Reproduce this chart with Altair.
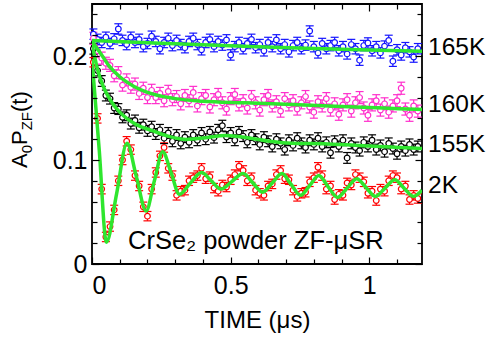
import altair as alt
import pandas as pd

# ---------------- data ----------------
T = [0.005, 0.020, 0.035, 0.050, 0.065, 0.080, 0.095, 0.110, 0.125, 0.140,
     0.155, 0.170, 0.185, 0.200, 0.215, 0.230, 0.245, 0.260, 0.275, 0.290,
     0.305, 0.320, 0.335, 0.350, 0.365, 0.380, 0.395, 0.410, 0.425, 0.440,
     0.455, 0.470, 0.485, 0.500, 0.515, 0.530, 0.545, 0.560, 0.575, 0.590,
     0.605, 0.620, 0.635, 0.650, 0.665, 0.680, 0.695, 0.710, 0.725, 0.740,
     0.755, 0.770, 0.785, 0.800, 0.815, 0.830, 0.845, 0.860, 0.875, 0.890,
     0.905, 0.920, 0.935, 0.950, 0.965, 0.980, 0.995, 1.010, 1.025, 1.040,
     1.055, 1.070, 1.085, 1.100, 1.115, 1.130, 1.145, 1.160, 1.175]

DATA_165K = [0.221, 0.216, 0.213, 0.218, 0.212, 0.2165, 0.226, 0.215, 0.211, 0.218,
             0.213, 0.216, 0.209, 0.212, 0.219, 0.214, 0.207, 0.213, 0.217, 0.210,
             0.215, 0.211, 0.208, 0.214, 0.217, 0.211, 0.206, 0.213, 0.216, 0.209,
             0.214, 0.2105, 0.2155, 0.201, 0.209, 0.213, 0.207, 0.212, 0.216, 0.208,
             0.211, 0.205, 0.213, 0.209, 0.2155, 0.207, 0.211, 0.204, 0.210, 0.213,
             0.207, 0.2105, 0.224, 0.209, 0.203, 0.212, 0.207, 0.210, 0.213, 0.205,
             0.209, 0.202, 0.211, 0.207, 0.196, 0.210, 0.2125, 0.205, 0.209, 0.203,
             0.2095, 0.215, 0.195, 0.206, 0.201, 0.208, 0.204, 0.199, 0.207]

DATA_160K = [0.217, 0.205, 0.198, 0.193, 0.191, 0.181, 0.184, 0.172, 0.177, 0.170,
             0.173, 0.164, 0.169, 0.160, 0.167, 0.160, 0.164, 0.157, 0.166, 0.158,
             0.161, 0.154, 0.162, 0.157, 0.165, 0.152, 0.159, 0.162, 0.151, 0.158,
             0.163, 0.155, 0.149, 0.159, 0.163, 0.153, 0.157, 0.150, 0.161, 0.155,
             0.148, 0.158, 0.162, 0.152, 0.156, 0.147, 0.159, 0.153, 0.157, 0.149,
             0.155, 0.161, 0.151, 0.146, 0.156, 0.152, 0.159, 0.148, 0.154, 0.144,
             0.153, 0.158, 0.147, 0.155, 0.160, 0.150, 0.143, 0.153, 0.157, 0.148,
             0.154, 0.146, 0.152, 0.157, 0.169, 0.149, 0.143, 0.152, 0.147]

DATA_155K = [0.207, 0.186, 0.176, 0.162, 0.159, 0.150, 0.149, 0.141, 0.143, 0.135,
             0.138, 0.131, 0.134, 0.128, 0.132, 0.125, 0.129, 0.121, 0.126, 0.118,
             0.124, 0.116, 0.122, 0.117, 0.124, 0.119, 0.126, 0.120, 0.127, 0.1215,
             0.129, 0.133, 0.122, 0.126, 0.119, 0.127, 0.123, 0.117, 0.124, 0.120,
             0.115, 0.122, 0.118, 0.113, 0.120, 0.116, 0.110, 0.119, 0.114, 0.121,
             0.116, 0.112, 0.119, 0.115, 0.121, 0.113, 0.117, 0.107, 0.118, 0.113,
             0.119, 0.102, 0.116, 0.112, 0.109, 0.117, 0.113, 0.119, 0.110, 0.114,
             0.108, 0.116, 0.111, 0.106, 0.113, 0.109, 0.115, 0.110, 0.113]

DATA_2K = [0.194, 0.140, 0.072, 0.026, 0.036, 0.052, 0.080, 0.100, 0.118, 0.110,
           0.085, 0.075, 0.055, 0.046, 0.072, 0.088, 0.104, 0.112, 0.092, 0.085,
           0.066, 0.070, 0.071, 0.080, 0.083, 0.085, 0.092, 0.082, 0.084, 0.073,
           0.070, 0.076, 0.074, 0.081, 0.086, 0.094, 0.090, 0.080, 0.083, 0.071,
           0.068, 0.066, 0.075, 0.077, 0.086, 0.090, 0.082, 0.081, 0.071, 0.065,
           0.068, 0.069, 0.079, 0.083, 0.093, 0.085, 0.072, 0.075, 0.062, 0.067,
           0.066, 0.078, 0.076, 0.086, 0.083, 0.079, 0.068, 0.070, 0.061, 0.072,
           0.070, 0.080, 0.085, 0.083, 0.072, 0.075, 0.062, 0.066, 0.063]

ERRORS = {"165K": 0.005, "160K": 0.0058, "155K": 0.0052, "2K": 0.0045}

FIT_165K_T = [0.0, 0.2, 0.4, 0.6, 0.8, 1.0, 1.19]
FIT_165K_V = [0.215, 0.2128, 0.2108, 0.209, 0.2073, 0.2058, 0.2045]

FIT_160K_T = [0.0, 0.03, 0.06, 0.1, 0.15, 0.2, 0.3, 0.4, 0.55, 0.7, 0.9, 1.05, 1.19]
FIT_160K_V = [0.214, 0.203, 0.191, 0.180, 0.171, 0.165, 0.159, 0.1565, 0.155,
              0.1535, 0.1515, 0.150, 0.1485]

FIT_155K_T = [0.0, 0.02, 0.04, 0.07, 0.1, 0.13, 0.16, 0.22, 0.28, 0.34, 0.41,
              0.48, 0.56, 0.64, 0.72, 0.85, 1.0, 1.19]
FIT_155K_V = [0.212, 0.187, 0.171, 0.156, 0.146, 0.139, 0.134, 0.128, 0.1225,
              0.1198, 0.1215, 0.1235, 0.1215, 0.118, 0.116, 0.1155, 0.1135, 0.111]

FIT_2K_T = [0.0, 0.026, 0.052, 0.089, 0.126, 0.16, 0.195, 0.225, 0.255, 0.285,
            0.315, 0.355, 0.395, 0.43, 0.465, 0.505, 0.545, 0.58, 0.615, 0.65,
            0.685, 0.718, 0.752, 0.785, 0.818, 0.851, 0.885, 0.92, 0.955, 0.988,
            1.022, 1.057, 1.092, 1.125, 1.159, 1.19]
FIT_2K_V = [0.197, 0.110, 0.021, 0.068, 0.116, 0.084, 0.051, 0.080, 0.108, 0.088,
            0.067, 0.078, 0.088, 0.080, 0.072, 0.0795, 0.087, 0.078, 0.069, 0.078,
            0.087, 0.0765, 0.066, 0.0755, 0.085, 0.0745, 0.064, 0.073, 0.082, 0.0735,
            0.065, 0.073, 0.081, 0.073, 0.065, 0.071]

SERIES = ["165K", "160K", "155K", "2K"]
COLORS = ["#1414ff", "#ff2ecc", "#000000", "#ff0000"]
LABEL_Y = [0.2075, 0.153, 0.114, 0.075]
GREEN = "#2ee62e"
FONT = "Liberation Sans"

# ---------------- tables ----------------
data_map = {"165K": DATA_165K, "160K": DATA_160K, "155K": DATA_155K, "2K": DATA_2K}
rows = []
for s in SERIES:
    for t, v in zip(T, data_map[s]):
        rows.append({"t": t, "v": v, "lo": v - ERRORS[s], "hi": v + ERRORS[s], "series": s})
df = pd.DataFrame(rows)

fit_map = {"165K": (FIT_165K_T, FIT_165K_V), "160K": (FIT_160K_T, FIT_160K_V),
           "155K": (FIT_155K_T, FIT_155K_V), "2K": (FIT_2K_T, FIT_2K_V)}
frows = []
for s in SERIES:
    for t, v in zip(*fit_map[s]):
        frows.append({"t": t, "v": v, "series": s})
fdf = pd.DataFrame(frows)

labels_df = pd.DataFrame({"t": [1.19] * 4, "v": LABEL_Y, "label": SERIES})
annot_df = pd.DataFrame({"t": [0.13], "v": [0.0145], "label": ["CrSe₂ powder ZF-μSR"]})

xs = alt.Scale(domain=[0, 1.19], nice=False, zero=False)
ys = alt.Scale(domain=[0, 0.25], nice=False, zero=False)
cs = alt.Scale(domain=SERIES, range=COLORS)

X = lambda f="t": alt.X(f"{f}:Q", scale=xs, axis=None)
Y = lambda f="v": alt.Y(f"{f}:Q", scale=ys, axis=None)

base = alt.Chart(df)
bars = base.mark_rule(strokeWidth=1.2, opacity=1).encode(
    x=X(), y=Y("lo"), y2="hi:Q", color=alt.Color("series:N", scale=cs, legend=None))
cap_hi = base.mark_tick(orient="horizontal", size=8, thickness=1.2, opacity=1).encode(
    x=X(), y=Y("hi"), color=alt.Color("series:N", scale=cs, legend=None))
cap_lo = base.mark_tick(orient="horizontal", size=8, thickness=1.2, opacity=1).encode(
    x=X(), y=Y("lo"), color=alt.Color("series:N", scale=cs, legend=None))
pts = base.mark_point(shape="circle", size=32, filled=True, fill="white",
                      strokeWidth=1.2, opacity=1).encode(
    x=X(), y=Y(), stroke=alt.Stroke("series:N", scale=cs, legend=None))

fits = alt.Chart(fdf).mark_line(interpolate="monotone", strokeWidth=3.5,
                                color=GREEN, clip=True).encode(
    x=X(), y=Y(), detail="series:N")

labels = alt.Chart(labels_df).mark_text(align="left", baseline="middle", dx=6,
                                         fontSize=24.5, font=FONT, color="black").encode(
    x=X(), y=Y(), text="label:N")
annot = alt.Chart(annot_df).mark_text(align="left", baseline="alphabetic",
                                       fontSize=25.5, font=FONT, color="black").encode(
    x=X(), y=Y(), text="label:N")

# y-axis title built from pieces (subscripts)
one = pd.DataFrame({"a": [0]})
def piece(txt, size, xv, yv):
    return alt.Chart(one).mark_text(text=txt, angle=270, align="left",
                                    baseline="alphabetic", fontSize=size,
                                    font=FONT, color="black").encode(
        x=alt.value(xv), y=alt.value(yv))

ytitle = [piece("A", 22, -65, 164), piece("0", 15, -60, 149.3),
          piece("P", 22, -65, 141), piece("ZF", 15, -60, 126.3),
          piece("(t)", 22, -65, 108)]

# axes: labels + inward ticks on all four sides
def axis_layer(xaxis, yaxis):
    return alt.Chart(fdf).mark_point(opacity=0).encode(
        x=alt.X("t:Q", scale=xs, axis=xaxis), y=alt.Y("v:Q", scale=ys, axis=yaxis))

X_MAJ = [0, 0.5, 1]
X_MIN = [0.1, 0.2, 0.3, 0.4, 0.6, 0.7, 0.8, 0.9, 1.1]
Y_MAJ = [0, 0.1, 0.2]
Y_MIN = [0.02, 0.04, 0.06, 0.08, 0.12, 0.14, 0.16, 0.18, 0.22, 0.24]

def tick_axis(orient, values, size):
    return alt.Axis(orient=orient, values=values, labels=False, domain=False,
                    grid=False, ticks=True, tickSize=size, offset=-size,
                    tickColor="black", tickWidth=1.2, title=None, zindex=1)

lab_x = alt.Axis(orient="bottom", values=X_MAJ, format="~g", ticks=False, domain=False,
                 grid=False, labelFontSize=25, labelFont=FONT, labelColor="black",
                 labelPadding=9, title="TIME (μs)", titleFontSize=24, titleFont=FONT,
                 titleFontWeight="normal", titleColor="black",
                 titleBaseline="alphabetic", titleY=63)
lab_y = alt.Axis(orient="left", values=Y_MAJ, format="~g", ticks=False, domain=False,
                 grid=False, labelFontSize=25, labelFont=FONT, labelColor="black",
                 labelPadding=5, title=None)

axes = [
    axis_layer(lab_x, lab_y),
    axis_layer(tick_axis("bottom", X_MAJ, 7), tick_axis("left", Y_MAJ, 7)),
    axis_layer(tick_axis("bottom", X_MIN, 5), tick_axis("left", Y_MIN, 5)),
    axis_layer(tick_axis("top", X_MAJ, 7), tick_axis("right", Y_MAJ, 7)),
    axis_layer(tick_axis("top", X_MIN, 5), tick_axis("right", Y_MIN, 5)),
]

chart = alt.layer(
    *axes, bars, cap_hi, cap_lo, pts, fits, labels, annot, *ytitle
).resolve_axis(
    x="independent", y="independent"
).properties(
    width=330, height=260,
    autosize=alt.AutoSizeParams(type="none"),
    padding={"left": 92, "top": 4, "right": 68, "bottom": 73},
).configure_view(stroke="black", strokeWidth=1.8)

chart.save("out.html", embed_options={"renderer": "svg", "actions": False})
